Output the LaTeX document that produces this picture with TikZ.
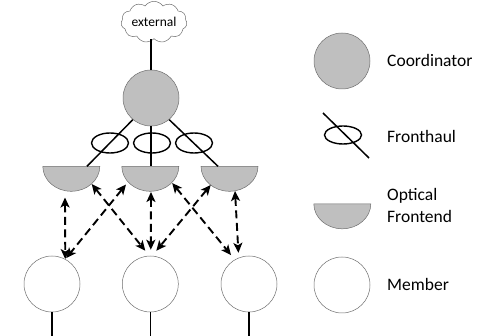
\documentclass[tikz,border=0pt]{standalone}
\usepackage{fontspec}
\setmainfont{Carlito}
\usetikzlibrary{shapes.symbols,shapes.geometric,arrows.meta}
\definecolor{shade}{RGB}{191,191,191}
\definecolor{edge}{RGB}{110,110,110}
\tikzset{
  coord/.style={circle,fill=shade,draw=edge,line width=0.5pt,minimum size=56pt,inner sep=0pt},
  member/.style={circle,fill=white,draw=edge,line width=0.5pt,minimum size=56pt,inner sep=0pt},
  fhring/.style={ellipse,draw=black,line width=1.4pt,minimum width=37pt,minimum height=20pt,inner sep=0pt},
  febox/.style={rectangle,minimum width=57pt,minimum height=25pt,inner sep=0pt},
  link/.style={line width=1.5pt},
  arr/.style={line width=1.9pt,dash pattern=on 8pt off 4.5pt,{Stealth[length=10pt,width=9pt,inset=2.5pt]}-{Stealth[length=10pt,width=9pt,inset=2.5pt]}},
  lbl/.style={font=\fontsize{17.5}{22}\selectfont,anchor=base west,inner sep=0pt,align=left},
  halfmoon/.style={fill=shade,draw=edge,line width=0.5pt}
}
\begin{document}
\begin{tikzpicture}[x=1pt,y=-1pt]
\useasboundingbox (0,0) rectangle (495,336);
% cloud
\node[cloud,cloud puffs=11,cloud puff arc=110,aspect=1.9,draw=edge,line width=0.5pt,inner sep=0pt,minimum width=66pt,minimum height=37pt,font=\fontsize{13.5}{15}\selectfont] (cloud) at (154,22) {external};
% coordinator
\node[coord] (co) at (151,98) {};
\draw[link] (cloud.south -| co) -- (co.north);
% frontends
\node[febox] (fe1) at (71.5,179) {};
\node[febox] (fe2) at (150.5,179) {};
\node[febox] (fe3) at (229.7,179) {};
\foreach \f in {fe1,fe2,fe3}{
  \draw[halfmoon] (\f.north west) arc[start angle=180,end angle=360,x radius=28.5pt,y radius=25pt] -- cycle;
}
% fronthaul links
\draw[link] (co.-130) -- ([shift={(15.5,0)}]fe1.north);
\draw[link] (co.south) -- (co.south |- fe2.north);
\draw[link] (co.-50) -- ([shift={(-11.7,0)}]fe3.north);
\node[fhring] (fh1) at (110,143) {};
\node[fhring] (fh2) at (152,143) {};
\node[fhring] (fh3) at (194,143) {};
% members
\node[member] (m1) at (52,284) {};
\node[member] (m2) at (150.3,284) {};
\node[member] (m3) at (249,284) {};
\foreach \m in {m1,m2,m3}{
  \draw[link] (\m.south) -- ++(0,30);
}
% optical links
\draw[arr] ([shift={(-6.5,18.5)}]fe1.center) -- (m1.62);
\draw[arr] ([shift={(20.2,5)}]fe1.center) -- ([shift={(-5,-5)}]m2.north);
\draw[arr] ([shift={(-24.5,5.5)}]fe2.center) -- ([shift={(1,-1)}]m1.62);
\draw[arr] ([shift={(0.5,13)}]fe2.center) -- ([shift={(0.5,-6)}]m2.north);
\draw[arr] ([shift={(-19,6)}]fe3.center) -- ([shift={(6,-5)}]m2.north);
\draw[arr] ([shift={(21.7,4)}]fe2.center) -- ([shift={(-3,-5)}]m3.122);
\draw[arr] ([shift={(5.3,12)}]fe3.center) -- ([shift={(0,-5)}]m3.112);
% legend
\node[coord] (lc) at (342,61) {};
\node[lbl] (tc) at (387,66.7) {Coordinator};
\node[fhring,minimum height=18pt] (lf) at (343,135) {};
\draw[link] ([shift={(-20,-22)}]lf.center) -- ([shift={(26,23)}]lf.center);
\node[lbl] (tf) at (387,143) {Fronthaul};
\node[febox] (lo) at (342.5,216.5) {};
\draw[halfmoon] (lo.north west) arc[start angle=180,end angle=360,x radius=28.5pt,y radius=25pt] -- cycle;
\node[lbl] (to) at (387,222.7) {Optical\\Frontend};
\node[member] (lm) at (342,285) {};
\node[lbl] (tm) at (387,291) {Member};
\end{tikzpicture}
\end{document}
